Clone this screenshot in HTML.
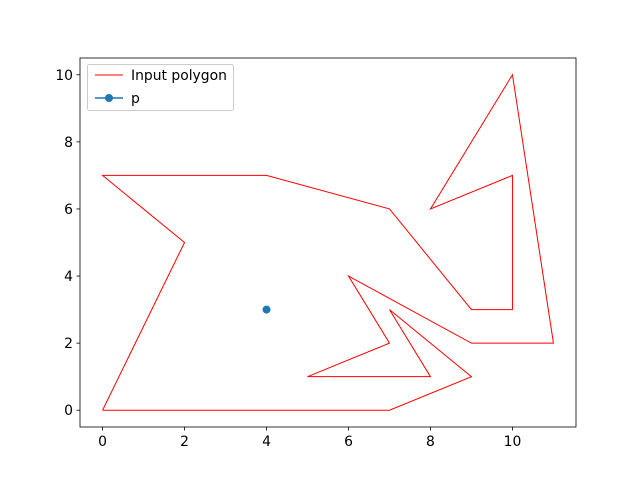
<!DOCTYPE html>
<html><head><meta charset="utf-8"><style>
body{margin:0;background:#fff}
svg text{font-family:"DejaVu Sans","Liberation Sans",sans-serif;font-size:13.9px;fill:#000}
</style></head><body>
<svg id="chart" width="640" height="480" xmlns="http://www.w3.org/2000/svg">
<rect width="640" height="480" fill="#fff"/>
<g id="grid"></g>
<g id="plot"></g>
<rect x="80" y="58" width="496" height="369" fill="none" stroke="#000" stroke-width="0.8"/>
<g>
<rect x="87.5" y="64.5" width="146" height="46" rx="2" fill="#fff" fill-opacity="0.8" stroke="#ccc"/>
<line x1="95" y1="75" x2="123" y2="75" stroke="red" stroke-width="1"/>
<text x="131" y="80">Input polygon</text>
<line x1="95" y1="98" x2="123" y2="98" stroke="#1f77b4" stroke-width="1.5"/>
<circle cx="109" cy="98" r="4" fill="#1f77b4"/>
<text x="131" y="103">p</text>
</g>
</svg>
<script>
const polyX=[0,7,9,7,8,5,7,6,9,11,10,8,10,10,9,7,4,0,2,0];
const polyY=[0,0,1,3,1,1,2,4,2,2,10,6,7,3,3,6,7,7,5,0];
const pointX=[4];
const pointY=[3];
const xTicks=[0,2,4,6,8,10];
const yTicks=[0,2,4,6,8,10];
const L=80,R=576,T=58,B=427,xmin=-0.55,xmax=11.55,ymin=-0.5,ymax=10.5;
const sx=v=>L+(v-xmin)/(xmax-xmin)*(R-L);
const sy=v=>B-(v-ymin)/(ymax-ymin)*(B-T);
const NS="http://www.w3.org/2000/svg";
const g=document.getElementById('grid'),p=document.getElementById('plot');
function mk(t,a,parent){const e=document.createElementNS(NS,t);for(const k in a)e.setAttribute(k,a[k]);parent.appendChild(e);return e;}
xTicks.forEach(v=>{const x=sx(v);
const l=mk('line',{x1:x,y1:B,x2:x,y2:B+3.5,stroke:'#000','stroke-width':0.8},g);


const t=mk('text',{x:x,y:B+19,'text-anchor':'middle'},g);t.textContent=v;

});
yTicks.forEach(v=>{const y=sy(v);
const l=mk('line',{x1:L-3.5,y1:y,x2:L,y2:y,stroke:'#000','stroke-width':0.8},g);


const t=mk('text',{x:L-7,y:y+5,'text-anchor':'end'},g);t.textContent=v;

});
const pts=polyX.map((x,i)=>sx(x)+','+sy(polyY[i])).join(' ');
const pl=mk('polyline',{points:pts,fill:'none',stroke:'red','stroke-width':1},p);


pointX.forEach((x,i)=>{const c=mk('circle',{cx:sx(x),cy:sy(pointY[i]),r:4,fill:'#1f77b4'},p);

});
</script>
</body></html>
